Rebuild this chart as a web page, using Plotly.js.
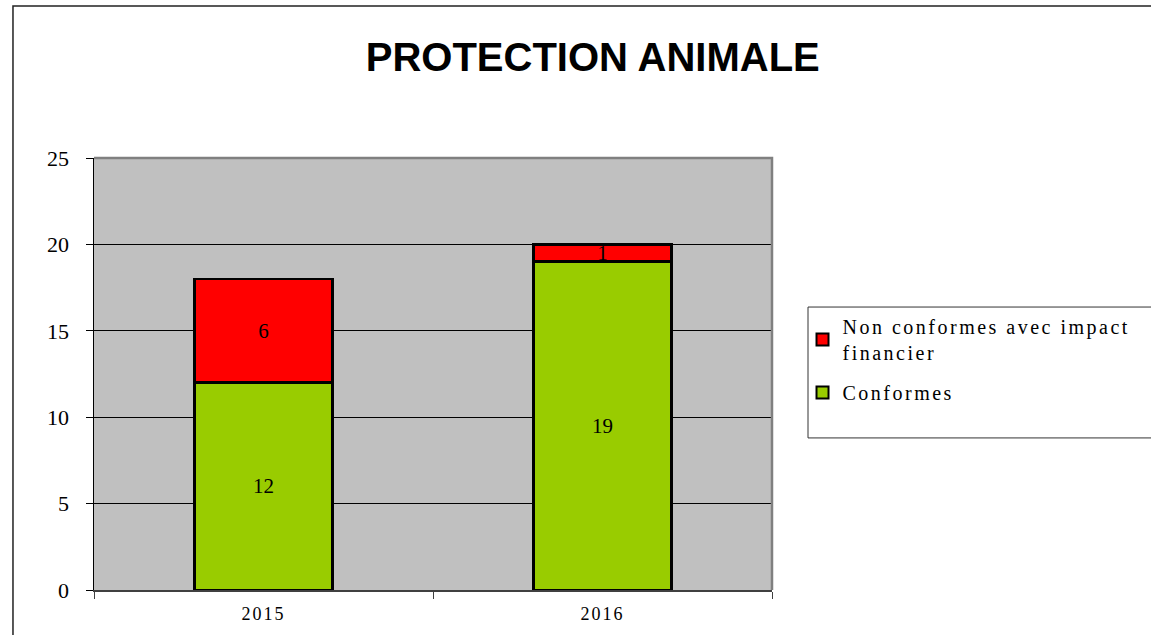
<!DOCTYPE html>
<html>
<head>
<meta charset="utf-8">
<script src="https://cdn.plot.ly/plotly-3.0.1.min.js"></script>
<style>
html,body{margin:0;padding:0;background:#fff;}
#chart{width:1151px;height:635px;}
.legendtext{letter-spacing:2.5px;}
.xtick text{letter-spacing:2px;}
</style>
</head>
<body>
<div id="chart"></div>
<script>
const years = ['2015', '2016'];
const conformes = [12, 19];
const nonConformes = [6, 1];
const seriesNames = ['Conformes', 'Non conformes avec impact<br>financier'];
const yTicks = [0, 5, 10, 15, 20, 25];

const serif = 'Liberation Serif, Times New Roman, serif';

const traces = [
  {
    type: 'bar', name: seriesNames[0], x: years, y: conformes, legendgroup: 'g1', legendrank: 2,
    text: conformes.map(String), textposition: 'inside', insidetextanchor: 'middle',
    constraintext: 'none', textangle: 0,
    textfont: {family: serif, size: 21, color: '#000'},
    marker: {color: '#99cc00', line: {color: '#000', width: 2.5}},
    hoverinfo: 'skip'
  },
  {
    type: 'bar', name: seriesNames[1], x: years, y: nonConformes, legendgroup: 'g2', legendrank: 1,
    text: nonConformes.map(String), textposition: 'inside', insidetextanchor: 'middle',
    constraintext: 'none', textangle: 0,
    textfont: {family: serif, size: 21, color: '#000'},
    marker: {color: '#ff0000', line: {color: '#000', width: 2.5}},
    hoverinfo: 'skip'
  }
];

const layout = {
  width: 1151, height: 635,
  margin: {l: 94, r: 379, t: 158, b: 45, pad: 0},
  paper_bgcolor: '#ffffff',
  plot_bgcolor: '#c0c0c0',
  barmode: 'stack',
  bargap: 0.593,
  showlegend: true,
  title: {
    text: 'PROTECTION ANIMALE',
    font: {family: 'Liberation Sans, Arial, sans-serif', size: 40, color: '#000', weight: 'bold'},
    x: 0.515, xanchor: 'center', y: 0.91, yanchor: 'middle'
  },
  xaxis: {
    type: 'category',
    tickson: 'boundaries', ticks: 'outside', ticklen: 7, tickcolor: '#404040', tickwidth: 1,
    showline: true, linecolor: '#404040', linewidth: 2,
    showgrid: false, zeroline: false,
    tickfont: {family: serif, size: 18, color: '#000'},
    ticklabelstandoff: 6
  },
  yaxis: {
    range: [0, 25], tickvals: yTicks, ticktext: yTicks.map(String),
    ticks: 'outside', ticklen: 7, tickcolor: '#000', tickwidth: 1,
    showline: true, linecolor: '#000', linewidth: 1.5,
    showgrid: true, gridcolor: '#000', gridwidth: 1,
    zeroline: false,
    tickfont: {family: serif, size: 22, color: '#000'},
    ticklabelstandoff: 12
  },
  legend: {
    x: 1.045, xanchor: 'left', y: 0.655, yanchor: 'top',
    traceorder: 'grouped',
    bgcolor: 'rgba(0,0,0,0)', borderwidth: 0,
    font: {family: serif, size: 20, color: '#000'},
    itemsizing: 'constant', tracegroupgap: 11
  },
  shapes: [
    {type: 'path', xref: 'paper', yref: 'paper', path: 'M0,1 L1,1 L1,0', line: {color: '#808080', width: 2.5}, layer: 'above'},
    {type: 'rect', xref: 'paper', yref: 'paper', x0: 1.0531, x1: 1.7, y0: 0.352, y1: 0.655, line: {color: '#333', width: 1}, fillcolor: 'rgba(0,0,0,0)'},
    {type: 'rect', xref: 'paper', yref: 'paper', x0: -0.1195, x1: 1.9, y0: -0.5, y1: 1.3519, line: {color: '#222', width: 1.5}, fillcolor: 'rgba(0,0,0,0)', layer: 'below'}
  ]
};

Plotly.newPlot('chart', traces, layout, {displayModeBar: false, staticPlot: true});
</script>
</body>
</html>
